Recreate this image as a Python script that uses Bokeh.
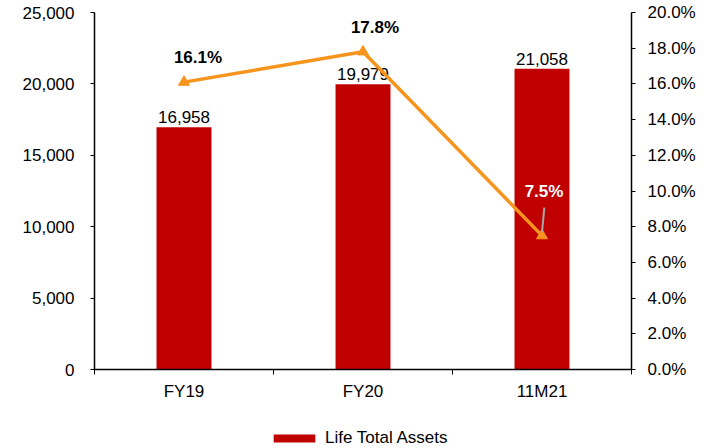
from bokeh.plotting import figure
from bokeh.layouts import column
from bokeh.models import (Range1d, LinearAxis, FixedTicker, NumeralTickFormatter,
                          Legend, LegendItem, ColumnDataSource)
from bokeh.core.properties import value
from bokeh.embed import file_html
from bokeh.resources import INLINE

categories = ["FY19", "FY20", "11M21"]
total_assets = [16958, 19979, 21058]
growth_pct = [0.161, 0.178, 0.075]
asset_labels = ["16,958", "19,979", "21,058"]
growth_labels = ["16.1%", "17.8%", "7.5%"]
series_name = "Life Total Assets"

FONT = "Liberation Sans"
FS = "17px"
BAR = "#C00000"
ORANGE = "#F7941D"

xs = [i + 0.5 for i in range(len(categories))]

p = figure(width=710, height=405, output_backend="svg", toolbar_location=None,
           x_range=Range1d(0, len(categories)), y_range=Range1d(0, 25000),
           min_border_left=94, min_border_right=79, min_border_top=12,
           min_border_bottom=36)
p.outline_line_color = None
p.xgrid.grid_line_color = None
p.ygrid.grid_line_color = None
p.background_fill_color = "white"
p.border_fill_color = "white"

p.extra_y_ranges = {"pct": Range1d(0, 0.20)}

src = ColumnDataSource(dict(x=xs, assets=total_assets, pct=growth_pct,
                            alab=asset_labels, glab=growth_labels))

bars = p.vbar(x="x", top="assets", width=0.307, source=src, fill_color=BAR,
              line_color=None)

# bar value labels
p.text(x="x", y="assets", text="alab", source=src, text_font=value(FONT),
       text_font_size=FS, text_color="#000000", text_align="center",
       text_baseline="bottom", y_offset=-4)

# line
p.line(x="x", y="pct", source=src, y_range_name="pct", line_color=ORANGE,
       line_width=3.5)
p.scatter(x="x", y="pct", source=src, y_range_name="pct", marker="triangle",
          size=11, fill_color=ORANGE, line_color=ORANGE)

# growth labels
offsets = [(14, -25, "#000000"), (12, -24, "#000000"), (2, -44, "#FFFFFF")]
for xx, v, lab, (dx, dy, col) in zip(xs, growth_pct, growth_labels, offsets):
    p.text(x=[xx], y=[v], text=[lab], y_range_name="pct", text_font=value(FONT),
           text_font_size=FS, text_font_style="bold", text_color=col,
           text_align="center", text_baseline="middle", y_offset=dy, x_offset=dx)

# leader line for the last label
p.segment(x0=[xs[-1]], y0=[growth_pct[-1] + 0.002], x1=[xs[-1] + 0.013],
          y1=[growth_pct[-1] + 0.0157], y_range_name="pct",
          line_color="#A6A6A6", line_width=2)

# x axis
xa = p.xaxis[0]
xa.ticker = FixedTicker(ticks=xs, minor_ticks=list(range(len(categories) + 1)))
xa.major_label_overrides = {x: c for x, c in zip(xs, categories)}
xa.major_tick_line_color = None
xa.minor_tick_line_color = "black"
xa.minor_tick_in = 0
xa.minor_tick_out = 5
xa.axis_line_color = "black"
xa.axis_line_width = 1.5
xa.major_label_text_font = FONT
xa.major_label_text_font_size = FS
xa.major_label_text_color = "#000000"
xa.major_label_standoff = 6

# left y axis
ya = p.yaxis[0]
ya.ticker = FixedTicker(ticks=[0, 5000, 10000, 15000, 20000, 25000])
ya.formatter = NumeralTickFormatter(format="0,0")
ya.major_tick_in = 0
ya.major_tick_out = 4
ya.minor_tick_line_color = None
ya.axis_line_color = "black"
ya.axis_line_width = 1.5
ya.major_label_text_font = FONT
ya.major_label_text_font_size = FS
ya.major_label_text_color = "#000000"
ya.major_label_standoff = 16

# right y axis
ra = LinearAxis(y_range_name="pct",
                ticker=FixedTicker(ticks=[i * 0.02 for i in range(11)]),
                formatter=NumeralTickFormatter(format="0.0%"))
ra.major_tick_in = 0
ra.major_tick_out = 4
ra.minor_tick_line_color = None
ra.axis_line_color = "black"
ra.axis_line_width = 1.5
ra.major_label_text_font = FONT
ra.major_label_text_font_size = FS
ra.major_label_text_color = "#000000"
ra.major_label_standoff = 12
p.add_layout(ra, "right")

# legend strip below the chart (its bar lies outside the strip's range, so only the key shows)
lg = figure(width=710, height=43, output_backend="svg", toolbar_location=None,
            x_range=p.x_range, y_range=Range1d(-1, 0),
            min_border_left=94, min_border_right=79, min_border_top=0,
            min_border_bottom=0)
lg.outline_line_color = None
lg.xaxis.visible = False
lg.yaxis.visible = False
lg.xgrid.grid_line_color = None
lg.ygrid.grid_line_color = None
lg.border_fill_color = "white"
lg.background_fill_color = "white"
swatch = lg.vbar(x=xs[:1], top=total_assets[:1], bottom=0, width=0.307,
                 fill_color=BAR, line_color=None)

legend = Legend(items=[LegendItem(label=series_name, renderers=[swatch])],
                orientation="horizontal", location=(174, 0),
                label_text_font=FONT, label_text_font_size=FS,
                label_text_color="#000000", glyph_width=52, glyph_height=10,
                border_line_color=None, background_fill_alpha=0,
                margin=0, padding=1, label_standoff=5)
lg.add_layout(legend, "center")

layout = column(p, lg, spacing=0)

open("out.html", "w").write(file_html(layout, INLINE))
